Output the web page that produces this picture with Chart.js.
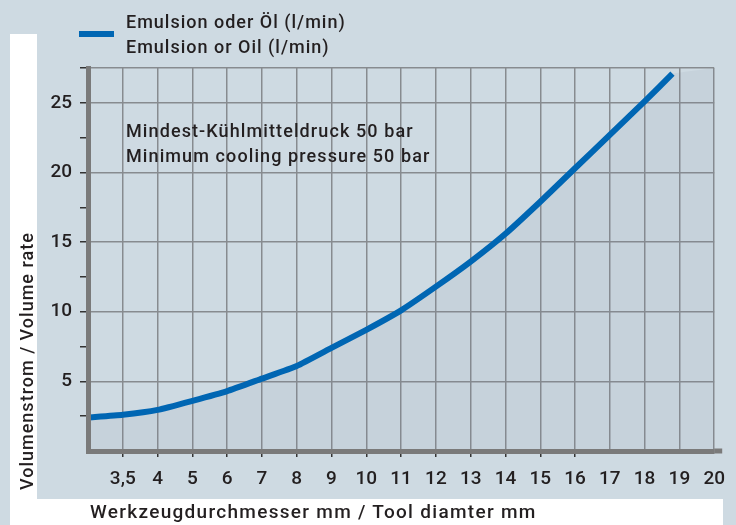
<!DOCTYPE html>
<html lang="de">
<head>
<meta charset="utf-8">
<title>Volumenstrom / Volume rate</title>
<script src="https://cdn.jsdelivr.net/npm/chart.js@4.4.1/dist/chart.umd.min.js"></script>
<style>
  html, body { margin: 0; padding: 0; background: #cedae2; }
  #wrap { position: relative; width: 736px; height: 525px; overflow: hidden; }
  #chart { position: absolute; left: 0; top: 0; }
  .txt {
    position: absolute;
    font-family: Roboto, "Open Sans", sans-serif;
    font-weight: 500;
    color: #231f20;
    white-space: nowrap;
    letter-spacing: 0.8px;
  }
  #legend-text { left: 126px; top: 9px; font-size: 18px; line-height: 25px; letter-spacing: 1px; }
  #legend-line { position: absolute; left: 79px; top: 31px; width: 35px; height: 6px; background: #0066b3; }
  #note { left: 126px; top: 118px; font-size: 18px; line-height: 25px; letter-spacing: 1.1px; }
  #x-title { left: 90px; top: 502px; font-size: 19px; line-height: 19px; letter-spacing: 1.3px; }
  #y-title {
    left: 18px; top: 490px; font-size: 18px; line-height: 18px; letter-spacing: 1px;
    transform-origin: 0 0; transform: rotate(-90deg);
  }
</style>
</head>
<body>
<div id="wrap">
  <canvas id="chart" width="736" height="525"></canvas>
  <div id="legend-line"></div>
  <div id="legend-text" class="txt">Emulsion oder Öl (l/min)<br>Emulsion or Oil (l/min)</div>
  <div id="note" class="txt">Mindest-Kühlmitteldruck 50 bar<br>Minimum cooling pressure 50 bar</div>
  <div id="x-title" class="txt">Werkzeugdurchmesser mm / Tool diamter mm</div>
  <div id="y-title" class="txt">Volumenstrom / Volume rate</div>
</div>
<script>
// tool diameter (mm) and coolant volume rate (l/min)
const diameters = [3, 3.5, 4, 5, 6, 7, 8, 9, 10, 11, 12, 13, 14, 15, 16, 17, 18, 18.8];
const flowRates = [2.4, 2.6, 2.95, 3.6, 4.3, 5.2, 6.1, 7.4, 8.7, 10.1, 11.8, 13.6, 15.6, 17.9, 20.3, 22.7, 25.1, 27.1];

// the x axis is evenly spaced per label, not linear in mm
const xLabels = ['', '3,5', '4', '5', '6', '7', '8', '9', '10', '11', '12', '13', '14', '15', '16', '17', '18', '19', '20'];
const yMax = 27.5;
const yStep = 2.5;

const BLUE = '#0066b3';
const GRID = '#878b8f';
const AXIS = '#7a7a7a';
const TEXT = '#231f20';

function axisPos(mm) {
  return mm < 4 ? (mm - 3) * 2 : mm - 2;
}

const curve = diameters.map((d, i) => ({ x: axisPos(d), y: flowRates[i] }));
// shaded area: below the curve and up to the top-right corner
const shade = curve.concat([{ x: xLabels.length - 1, y: yMax }]);

const backdrop = {
  id: 'backdrop',
  beforeDraw(chart) {
    const { ctx, width, height } = chart;
    ctx.save();
    ctx.fillStyle = '#cedae2';
    ctx.fillRect(0, 0, width, height);
    ctx.fillStyle = '#ffffff';
    ctx.fillRect(10, 34, 27, height - 34);
    ctx.fillRect(10, 499, 713, height - 499);
    ctx.restore();
  },
  afterDraw(chart) {
    const { ctx, chartArea } = chart;
    ctx.save();
    ctx.fillStyle = AXIS;
    ctx.fillRect(chartArea.right, chartArea.bottom - 2.5, 8, 5);
    ctx.restore();
  },
};

const tickFont = { family: 'Roboto, "Open Sans", sans-serif', size: 19, weight: '500' };

new Chart(document.getElementById('chart'), {
  type: 'line',
  data: {
    datasets: [
      {
        data: shade,
        borderWidth: 0,
        pointRadius: 0,
        backgroundColor: 'rgba(120,130,160,0.09)',
        fill: 'origin',
        order: 2,
      },
      {
        data: curve,
        borderColor: BLUE,
        borderWidth: 6,
        borderCapStyle: 'butt',
        borderJoinStyle: 'round',
        tension: 0.15,
        pointRadius: 0,
        fill: false,
        order: 1,
      },
    ],
  },
  options: {
    responsive: false,
    devicePixelRatio: 1,
    animation: false,
    layout: { padding: { top: 68, right: 21, left: 0, bottom: 0 } },
    plugins: { legend: { display: false }, tooltip: { enabled: false } },
    scales: {
      x: {
        type: 'linear',
        min: 0,
        max: xLabels.length - 1,
        afterFit(scale) { scale.height = 74; },
        border: { display: true, color: AXIS, width: 5, z: 1 },
        grid: {
          color: GRID,
          lineWidth: 1.5,
          tickLength: 6,
          tickWidth: 1.5,
          tickColor: (ctx) => (ctx.tick && ctx.tick.value >= 1 && ctx.tick.value <= 14 ? '#333' : 'transparent'),
        },
        ticks: {
          stepSize: 1,
          autoSkip: false,
          maxRotation: 0,
          padding: 11,
          color: TEXT,
          font: tickFont,
          callback: (v) => xLabels[v] ?? '',
        },
      },
      y: {
        min: 0,
        max: yMax,
        afterFit(scale) { scale.width = 88; },
        border: { display: true, color: AXIS, width: 5, z: 1 },
        grid: {
          lineWidth: 1.5,
          tickLength: 8,
          tickWidth: 1.5,
          color: (ctx) => {
            const v = ctx.tick ? ctx.tick.value : 0;
            return (v > 0 && v % 5 === 0) || v === yMax ? GRID : 'transparent';
          },
          tickColor: (ctx) => (ctx.tick && ctx.tick.value > 0 ? '#333' : 'transparent'),
        },
        ticks: {
          stepSize: yStep,
          padding: 8,
          color: TEXT,
          font: tickFont,
          callback: (v) => (v > 0 && v % 5 === 0 ? String(v) : ''),
        },
      },
    },
  },
  plugins: [backdrop],
});
</script>
</body>
</html>
